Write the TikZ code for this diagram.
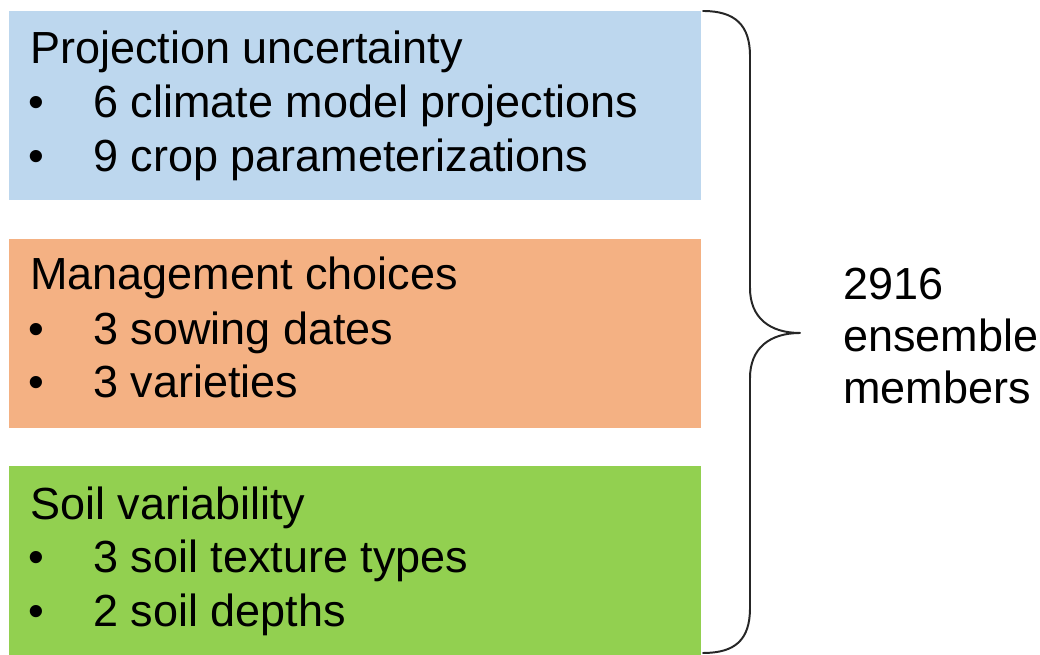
\documentclass[tikz,border=0pt]{standalone}
\usepackage{fontspec}
\setmainfont{Liberation Sans}
\definecolor{projblue}{HTML}{BDD7EE}
\definecolor{mgmtorange}{HTML}{F4B183}
\definecolor{soilgreen}{HTML}{92D050}
\begin{document}
\begin{tikzpicture}[x=0.025cm,y=0.025cm,line join=round,line cap=round,
	txt/.style={anchor=base west,inner sep=0pt,font=\fontsize{32}{38}\selectfont},
	band/.style={anchor=south west,inner sep=0pt,minimum width=692*0.025cm,minimum height=189*0.025cm}]
		\useasboundingbox (0,0) rectangle (1040,655);
		% coloured bands
		\node[band,fill=projblue] (proj) at (9,455) {};
		\node[band,fill=mgmtorange] (mgmt) at (9,227) {};
		\node[band,fill=soilgreen] (soil) at (9,0) {};
		% texts
		\node[txt] (projT) at (30,591) {Projection uncertainty};
		\node[txt] (projB1) at (28,537) {•};
		\node[txt] (projI1) at (93,537) {6 climate model projections};
		\node[txt] (projB2) at (28,483) {•};
		\node[txt] (projI2) at (93,483) {9 crop parameterizations};
		\node[txt] (mgmtT) at (30,365) {Management choices};
		\node[txt] (mgmtB1) at (28,310) {•};
		\node[txt] (mgmtI1) at (93,310) {3 sowing dates};
		\node[txt] (mgmtB2) at (28,257) {•};
		\node[txt] (mgmtI2) at (93,257) {3 varieties};
		\node[txt] (soilT) at (30,135) {Soil variability};
		\node[txt] (soilB1) at (28,82) {•};
		\node[txt] (soilI1) at (93,82) {3 soil texture types};
		\node[txt] (soilB2) at (28,28) {•};
		\node[txt] (soilI2) at (93,28) {2 soil depths};
		\node[txt] (total1) at (843,355) {2916};
		\node[txt] (total2) at (843,303) {ensemble};
		\node[txt] (total3) at (843,251) {members};
		% brace
		\coordinate (T) at (703,644);
		\coordinate (T1) at (750,599);
		\coordinate (T2) at (750,367);
		\coordinate (M) at (800,322);
		\coordinate (B2) at (750,277);
		\coordinate (B1) at (750,47);
		\coordinate (B) at (703,2);
		\draw[line width=1.4pt,black!85] (T) .. controls (735,644) and (750,630) .. (T1) -- (T2)
			.. controls (750,337) and (770,322) .. (M)
			.. controls (770,322) and (750,307) .. (B2) -- (B1)
			.. controls (750,15) and (735,2) .. (B);
		\end{tikzpicture}
\end{document}
